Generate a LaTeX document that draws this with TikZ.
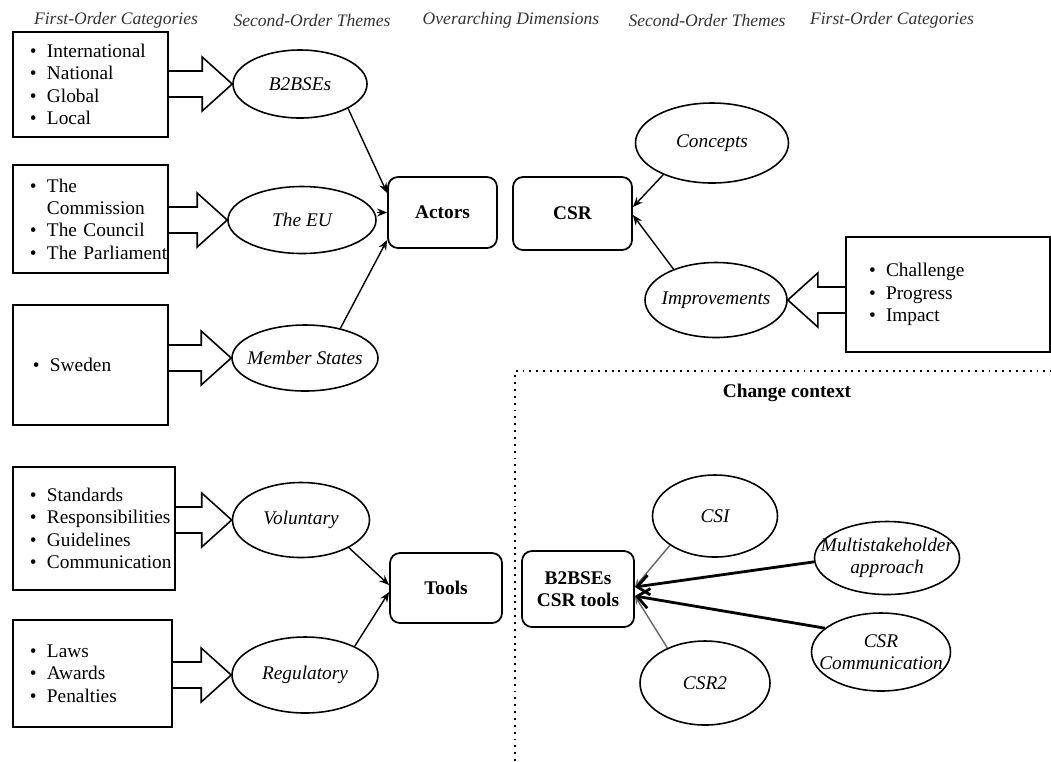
\documentclass[tikz,border=0pt]{standalone}
\usepackage{fontspec}
\setmainfont{Liberation Serif}
\usetikzlibrary{arrows.meta,shapes.geometric,calc}
% bullet item for the category boxes
\newcommand{\itm}[1]{\mbox{\makebox[3.4mm][l]{\textbullet}#1}}
% wide hollow arrow from a box (#1) to an ellipse (#2), head length #3
\newcommand{\bigarrow}[3]{%
\draw[fat] ($(#1 |- #2)+(0,-13)$) -- ($(#2)-(#3,13)$) -- ($(#2)-(#3,27)$) -- (#2)
 -- ($(#2)-(#3,-27)$) -- ($(#2)-(#3,-13)$) -- ($(#1 |- #2)+(0,13)$);}

\begin{document}
\begin{tikzpicture}[x=0.2mm,y=-0.2mm,font=\fontsize{11}{12.7}\selectfont]
\useasboundingbox (0,0) rectangle (1051,761);
\tikzstyle{head}=[font=\fontsize{10}{12}\selectfont\itshape,text=black!80]
\tikzstyle{cat}=[draw,rectangle,line width=1pt,align=left,inner xsep=3.4mm,inner ysep=0pt]
\tikzstyle{theme}=[draw,ellipse,line width=0.9pt,font=\fontsize{11}{12.7}\selectfont\itshape,align=center,inner xsep=-6mm,inner ysep=-2mm]
\tikzstyle{dim}=[draw,rectangle,rounded corners=2mm,line width=1pt,font=\fontsize{11}{12.7}\selectfont\bfseries,align=center]
\tikzstyle{edge}=[-{Stealth[length=2mm,width=1.6mm]},line width=0.8pt]
\tikzstyle{fat}=[line width=0.9pt]
\tikzstyle{link}=[-{Straight Barb[length=2.4mm,width=4mm]},line width=1.6pt]
\tikzstyle{faint}=[-{Stealth[length=1.6mm,width=1.4mm]},line width=0.8pt,black!60]
%column titles
\node[head] (h1) at (116,20) {First-Order Categories};
\node[head] (h2) at (312,20) {Second-Order Themes};
\node[head] (h3) at (511,20) {Overarching Dimensions};
\node[head] (h4) at (707,20) {Second-Order Themes};
\node[head] (h5) at (892,20) {First-Order Categories};
%first-order categories
\node[cat,text width=24.2mm,minimum height=21mm] (c1) at (90.5,84.5) {\itm{International}\\\itm{National}\\\itm{Global}\\\itm{Local}};
\node[cat,text width=24.2mm,minimum height=21.6mm] (c2) at (90.5,219) {\itm{The}\\\hspace*{3.4mm}Commission\\\itm{The Council}\\\itm{The Parliament}};
\node[cat,inner xsep=4mm,text width=23mm,minimum height=24mm] (c3) at (90.5,365) {\itm{Sweden}};
\node[cat,text width=25.6mm,minimum height=24.6mm] (c4) at (94,528.5) {\itm{Standards}\\\itm{Responsibilities}\\\itm{Guidelines}\\\itm{Communication}};
\node[cat,text width=25mm,minimum height=21.4mm] (c5) at (92.5,673.5) {\itm{Laws}\\\itm{Awards}\\\itm{Penalties}};
\node[cat,inner xsep=4.6mm,text width=31.6mm,minimum height=23mm] (c6) at (948,294.5) {\itm{Challenge}\\\itm{Progress}\\\itm{Impact}};
%second-order themes
\node[theme,minimum width=26.8mm,minimum height=13.6mm] (b2b) at (300,84) {B2BSEs};
\node[theme,minimum width=29.6mm,minimum height=13.4mm] (eu) at (302,220) {The EU};
\node[theme,minimum width=29.2mm,minimum height=13.2mm] (ms) at (305,358) {Member States};
\node[theme,minimum width=30.6mm,minimum height=16mm] (con) at (712,143) {Concepts};
\node[theme,minimum width=28.4mm,minimum height=15mm] (imp) at (716,300) {Improvements};
\node[theme,minimum width=27.4mm,minimum height=15mm] (vol) at (301,520) {Voluntary};
\node[theme,minimum width=29.2mm,minimum height=15.2mm] (reg) at (305,675) {Regulatory};
\node[theme,minimum width=25mm,minimum height=16.4mm] (csi) at (715,516) {CSI};
\node[theme,minimum width=26mm,minimum height=16.8mm] (csr2) at (705,683) {CSR2};
\node[theme,minimum width=29mm,minimum height=14.6mm] (multi) at (887,558) {Multistakeholder\\approach};
\node[theme,minimum width=27.8mm,minimum height=15.6mm] (comm) at (881,652) {CSR\\Communication};
%overarching dimensions
\node[dim,minimum width=21.8mm,minimum height=14.2mm] (actors) at (442.5,212.5) {Actors};
\node[dim,minimum width=23.8mm,minimum height=14.6mm] (csr) at (572.5,213.5) {CSR};
\node[dim,minimum width=22.4mm,minimum height=14mm] (tools) at (446,588) {Tools};
\node[dim,minimum width=22.4mm,minimum height=15.2mm] (tbox) at (578,589) {B2BSEs\\CSR tools};
%change context
\node[font=\fontsize{11}{13}\selectfont\bfseries] (ctx) at (787,393) {Change context};
\draw[line width=1.2pt,dash pattern=on 1.1pt off 2.8pt] (515,761) -- (515,371) -- (1051,371);
%block arrows
\bigarrow{c1.east}{b2b.west}{30}
\bigarrow{c2.east}{eu.west}{30}
\bigarrow{c3.east}{ms.west}{30}
\bigarrow{c4.east}{vol.west}{30}
\bigarrow{c5.east}{reg.west}{30}
\bigarrow{c6.west}{imp.east}{-30}
%links
\draw[edge] (b2b.-27) -- ([yshift=3.9mm]actors.west);
\draw[edge] (eu.east |- actors.west) -- (actors.west);
\draw[edge] (ms.40) -- ([yshift=-5.5mm]actors.west);
\draw[edge] (con.213) -- ([yshift=1.3mm]csr.east);
\draw[edge] (imp.144) -- ([yshift=-0.3mm]csr.east);
\draw[edge] (vol.-30) -- ([yshift=0.6mm]tools.west);
\draw[edge] (reg.30) -- ([yshift=-0.8mm]tools.west);
\draw[faint] (csi.213) -- ([yshift=0.4mm]tbox.east);
\draw[faint] (csr2.137) -- ([yshift=-1.4mm]tbox.east);
\draw[link] (multi.183) -- ([yshift=0.4mm]tbox.east);
\draw[link] (comm.157) -- ([yshift=-1.4mm]tbox.east);
\end{tikzpicture}
\end{document}
